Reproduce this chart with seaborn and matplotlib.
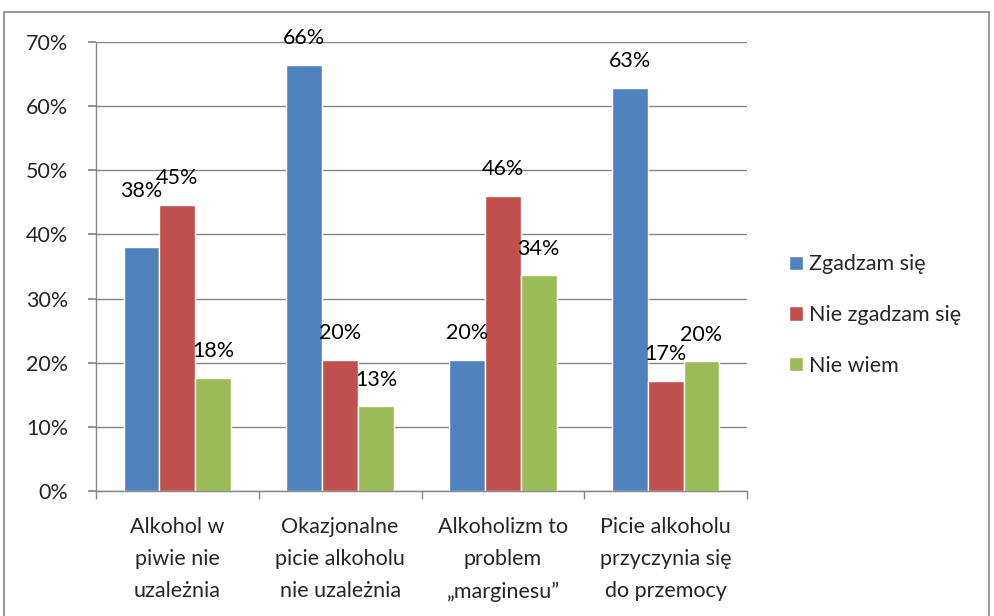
import matplotlib
matplotlib.use("Agg")
import matplotlib.pyplot as plt
import seaborn as sns
import pandas as pd
from matplotlib.patches import Rectangle
from matplotlib.ticker import FixedLocator, FuncFormatter

categories = ["Alkohol w\npiwie nie\nuzależnia",
              "Okazjonalne\npicie alkoholu\nnie uzależnia",
              "Alkoholizm to\nproblem\n„marginesu”",
              "Picie alkoholu\nprzyczynia się\ndo przemocy"]
series = ["Zgadzam się", "Nie zgadzam się", "Nie wiem"]
zgadzam = [38.0, 66.4, 20.4, 62.9]
nie_zgadzam = [44.6, 20.4, 46.0, 17.2]
nie_wiem = [17.6, 13.2, 33.6, 20.2]
colors = ["#4F81BD", "#C0504D", "#9BBB59"]

rows = []
for s, vals in zip(series, [zgadzam, nie_zgadzam, nie_wiem]):
    for c, v in zip(categories, vals):
        rows.append({"cat": c, "series": s, "val": v})
df = pd.DataFrame(rows)

sns.set_theme(style="white")
plt.rcParams['font.family'] = ['Lato', 'DejaVu Sans']
FS = 15.5

fig = plt.figure(figsize=(9.94, 6.16), dpi=100)
ax = fig.add_axes([96/994, 1-491/616, (747-96)/994, (491-42)/616])

sns.barplot(data=df, x="cat", y="val", hue="series", palette=colors,
            width=0.66, ax=ax, saturation=1, errorbar=None, legend=True)

for i, cont in enumerate(ax.containers):
    anns = ax.bar_label(cont, fmt="%.0f%%", padding=12, fontsize=FS, color="black")
    if i == 0:
        # first label sits higher in the original chart
        x0, y0 = anns[0].xyann
        anns[0].xyann = (x0, y0 + 21)

ax.set_ylim(0, 70)
ax.set_xlim(-0.5, 3.5)
ax.set_yticks(range(0, 71, 10))
ax.yaxis.set_major_formatter(FuncFormatter(lambda v, p: f"{v:.0f}%"))
ax.tick_params(axis="y", length=6, color="#868686", labelsize=FS, pad=14, left=True, direction="out")
ax.grid(axis="y", color="#868686", linewidth=1)
ax.set_axisbelow(True)
ax.set_xlabel("")
ax.set_ylabel("")
ax.tick_params(axis="x", which="major", length=0, labelsize=FS, pad=19)
ax.xaxis.set_minor_locator(FixedLocator([-0.5, 0.5, 1.5, 2.5, 3.5]))
ax.tick_params(axis="x", which="minor", length=6, color="#868686", bottom=True, direction="out")
for lbl in ax.get_xticklabels():
    lbl.set_linespacing(1.75)

for side in ["top", "right"]:
    ax.spines[side].set_visible(False)
for side in ["left", "bottom"]:
    ax.spines[side].set_color("#868686")
    ax.spines[side].set_linewidth(1)

leg = ax.legend(loc="center left", bbox_to_anchor=(778/994, 1-315/616),
                bbox_transform=fig.transFigure, frameon=False, fontsize=FS,
                handlelength=0.65, handleheight=0.65, handletextpad=0.3,
                labelspacing=1.42, borderpad=0)

fig.patches.append(Rectangle((4/994, -0.02), 985/994, 1-12/616+0.02,
                             transform=fig.transFigure, fill=False,
                             edgecolor="#868686", linewidth=1.2))

fig.savefig("out.png", dpi=100)
